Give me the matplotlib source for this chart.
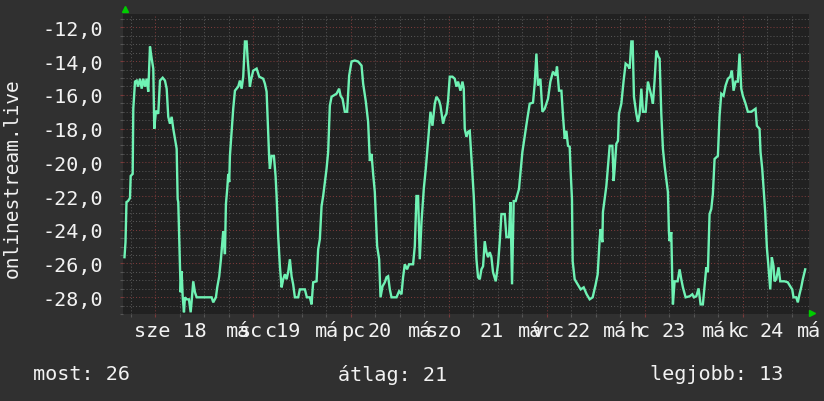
import matplotlib
matplotlib.use("Agg")
import matplotlib.pyplot as plt
import matplotlib.transforms as mtransforms
import numpy as np

# ---------------- data ----------------
hours = [0.24, 0.49, 0.73, 1.10, 1.59, 1.76, 2.25, 2.40, 2.82, 3.23, 3.55, 4.04, 4.46, 4.85, 5.27, 5.68,
         6.07, 6.49, 6.91, 7.30, 7.54, 7.96, 8.52, 8.94, 9.60, 10.16, 10.58, 10.97, 11.39, 11.80, 12.20,
         12.61, 13.03, 13.27, 13.42, 13.84, 14.01, 14.25, 14.50, 14.82, 15.06, 15.48, 16.04, 16.46, 16.70,
         17.09, 17.51, 17.93, 21.60, 21.99, 22.65, 22.97, 23.46, 23.88, 24.44, 24.86, 25.10, 25.42, 25.67,
         25.91, 26.08, 26.89, 27.31, 28.11, 28.53, 28.95, 29.34, 29.76, 30.17, 30.42, 30.98, 31.22, 31.79,
         32.62, 33.26, 34.24, 34.65, 35.07, 35.46, 35.71, 35.88, 36.29, 36.86, 37.27, 37.52, 37.91, 38.33,
         38.74, 39.14, 39.55, 39.97, 40.36, 40.78, 41.19, 41.58, 42.00, 42.81, 43.22, 44.45, 44.94, 45.67,
         46.09, 46.48, 47.31, 47.71, 48.12, 48.54, 48.93, 49.35, 49.76, 50.16, 50.57, 50.99, 51.38, 52.21,
         52.85, 53.19, 53.68, 54.24, 54.81, 55.30, 55.89, 56.69, 57.50, 58.34, 58.73, 59.39, 59.95, 60.37,
         60.78, 61.18, 61.59, 62.16, 62.65, 62.99, 63.48, 64.04, 64.46, 64.85, 65.27, 65.68, 66.91, 67.54,
         68.13, 68.52, 68.94, 69.50, 69.99, 70.97, 71.39, 71.80, 72.20, 72.61, 73.03, 73.59, 74.08, 74.82,
         75.23, 75.72, 76.29, 76.70, 77.34, 77.68, 78.32, 78.73, 79.15, 79.54, 79.96, 80.62, 81.18, 81.60,
         81.99, 82.58, 83.07, 83.39, 83.63, 84.05, 84.44, 84.86, 85.03, 85.52, 85.84, 86.25, 86.50, 86.89,
         87.31, 87.72, 88.12, 88.53, 88.95, 89.34, 89.76, 90.17, 90.56, 91.23, 91.79, 92.20, 92.62, 93.43,
         93.85, 94.48, 94.82, 95.22, 95.63, 96.12, 96.44, 96.93, 97.10, 97.76, 98.33, 98.89, 99.55, 100.36,
         100.78, 101.19, 101.58, 102.17, 102.66, 103.23, 104.03, 104.62, 105.26, 105.92, 106.24, 106.73,
         107.32, 107.71, 108.13, 108.54, 108.93, 109.35, 109.59, 109.91, 110.08, 110.57, 111.31, 112.04,
         112.78, 113.51, 114.25, 114.98, 115.72, 116.21, 116.70, 116.94, 117.36, 117.50, 117.92, 118.34,
         118.73, 119.15, 119.81, 120.12, 120.37, 120.78, 121.18, 121.42, 122.01, 122.57, 123.06, 123.63,
         124.04, 124.46, 124.78, 125.10, 125.68, 126.07, 126.49, 126.91, 127.30, 127.96, 128.52, 128.94,
         129.36, 129.75, 130.16, 130.58, 131.07, 131.39, 131.80, 132.20, 132.61, 133.03, 133.42, 133.67,
         133.84, 134.25, 134.50, 134.65, 135.06, 135.80, 136.29, 136.70, 137.10, 137.76, 138.74, 139.40,
         139.79, 140.38, 140.94, 141.19, 141.43, 141.99, 142.41, 142.83, 143.22, 143.63, 144.05, 144.44,
         144.86, 145.67, 146.08, 146.50, 147.06, 147.55, 148.12, 148.70, 149.10, 149.51, 150.00, 150.56,
         150.98, 151.40, 151.79, 152.45, 153.01, 153.85, 154.90, 155.22, 155.88, 156.12, 156.54, 156.93,
         157.27, 157.67, 158.08, 158.50, 158.89, 159.31, 159.55, 159.97, 160.53, 160.95, 162.00, 162.81,
         163.40, 163.89, 164.20, 164.87, 165.26, 165.67, 166.09, 166.48, 167.07]

rank = [-25.63, -24.74, -22.36, -22.30, -22.12, -20.81, -20.69, -16.82, -15.21, -15.15, -15.51, -15.04,
        -15.63, -15.04, -15.51, -15.04, -15.81, -13.13, -13.85, -14.44, -18.01, -16.94, -17.12, -15.15,
        -14.98, -15.15, -15.63, -17.30, -17.71, -17.30, -18.01, -18.61, -19.20, -22.18, -22.36, -26.35,
        -27.71, -26.46, -27.95, -28.90, -28.01, -28.13, -28.13, -28.90, -28.25, -27.06, -27.71, -28.01,
        -28.01, -28.31, -28.01, -27.42, -26.76, -25.75, -24.08, -25.45, -22.48, -21.58, -20.69, -21.17,
        -19.62, -16.82, -15.75, -15.51, -15.15, -15.63, -14.92, -12.83, -12.83, -13.85, -15.51, -15.15,
        -14.56, -14.44, -14.92, -15.04, -15.33, -15.81, -18.19, -19.80, -20.39, -19.62, -19.62, -20.81,
        -22.00, -24.38, -26.17, -27.42, -26.94, -26.64, -26.94, -26.52, -25.75, -26.76, -27.24, -28.01,
        -28.01, -27.54, -27.54, -28.01, -28.01, -28.43, -27.12, -27.06, -25.15, -24.56, -22.60, -22.00,
        -21.17, -20.39, -19.38, -16.64, -16.11, -16.05, -15.93, -15.63, -16.05, -16.23, -17.00, -17.00,
        -14.86, -14.02, -13.96, -14.02, -14.26, -15.33, -16.40, -17.60, -19.92, -19.50, -20.69, -21.76,
        -24.98, -25.75, -28.01, -27.36, -27.12, -26.82, -26.76, -27.54, -28.01, -28.01, -27.65, -27.83,
        -26.82, -26.05, -26.35, -26.05, -26.05, -24.98, -22.00, -22.00, -25.75, -23.55, -21.58, -20.39,
        -18.19, -17.00, -17.83, -16.52, -16.11, -16.35, -16.64, -17.71, -17.30, -17.12, -16.35, -14.92,
        -14.92, -15.04, -15.51, -15.21, -15.75, -15.21, -15.63, -18.01, -18.49, -18.19, -18.13, -18.79,
        -20.69, -22.00, -24.38, -25.75, -26.82, -26.94, -26.35, -26.17, -24.68, -25.33, -25.63, -25.33,
        -25.63, -26.52, -27.06, -26.05, -24.74, -23.07, -23.07, -24.44, -24.44, -22.36, -27.24, -22.30,
        -22.30, -22.00, -21.58, -21.11, -19.38, -18.43, -17.54, -16.52, -16.46, -15.33, -13.55, -15.45,
        -15.04, -17.00, -16.82, -16.23, -15.21, -14.62, -14.86, -14.32, -15.75, -15.75, -17.24, -18.61,
        -18.13, -19.02, -19.08, -20.57, -22.18, -25.87, -26.94, -27.24, -27.54, -27.42, -27.83, -28.13,
        -28.01, -27.24, -26.64, -24.56, -23.96, -24.74, -22.95, -22.18, -21.40, -20.27, -19.02, -19.02,
        -21.11, -20.39, -18.90, -18.73, -17.12, -16.52, -15.15, -14.14, -14.26, -14.44, -12.83, -12.83,
        -16.11, -17.12, -17.60, -17.12, -15.63, -17.00, -17.00, -15.21, -15.63, -16.05, -16.52, -15.15,
        -13.37, -13.73, -13.85, -17.12, -19.20, -20.21, -20.99, -21.76, -24.14, -24.68, -24.14, -27.12,
        -28.43, -27.06, -27.06, -26.35, -26.94, -27.42, -28.01, -27.95, -27.83, -28.01, -27.95, -27.48,
        -27.95, -28.43, -28.43, -27.36, -26.23, -26.52, -23.07, -22.77, -21.88, -19.80, -19.62, -17.24,
        -15.93, -16.05, -15.45, -15.04, -14.92, -14.56, -15.75, -15.21, -15.21, -13.55, -15.63, -16.05,
        -16.52, -17.00, -17.00, -16.82, -17.83, -18.01, -19.38, -20.39, -21.76, -22.95, -25.04, -26.23,
        -27.54, -25.63, -26.17, -27.06, -26.94, -26.23, -27.06, -27.06, -27.12, -27.36, -27.54, -28.01,
        -28.01, -28.31, -27.83, -27.42, -26.94, -26.35]

y_ticks = [-12, -14, -16, -18, -20, -22, -24, -26, -28]
y_tick_labels = ["-12,0", "-14,0", "-16,0", "-18,0", "-20,0", "-22,0", "-24,0", "-26,0", "-28,0"]

# day labels as rendered (overlapping glyph groups) and their left edges (hours)
x_label_texts = ["sze 18",
                 "má", "sc", "c19",
                 "má", "pc", "20",
                 "má", "szo", "21",
                 "má", "v", "rc", "22",
                 "má", "h", "c", "23",
                 "má", "k", "c", "24",
                 "má"]
x_label_hours = [2.57,
                 25.10, 28.29, 34.41,
                 46.90, 53.26, 59.88,
                 69.68, 74.08, 87.31,
                 96.61, 99.80, 102.25, 108.61,
                 117.43, 124.00, 126.00, 131.88,
                 141.67, 148.00, 150.24, 155.88,
                 164.95]

y_title = "onlinestream.live"
stats = ["most: 26", "átlag: 21", "legjobb: 13"]

# ---------------- style ----------------
BG = "#303030"
PLOT_BG = "#212121"
LINE = "#6ff2b4"
TXT = "#f2f2f2"
MINOR = "#555555"
MAJOR = "#7a3a3a"
FONT = "DejaVu Sans Mono"
FS = 14.5

fig = plt.figure(figsize=(8.24, 4.02), dpi=100, facecolor=BG)
ax = fig.add_axes([123.5 / 824, 1 - 315 / 402, 685.5 / 824, 300 / 402])
ax.set_facecolor(PLOT_BG)
for s in ax.spines.values():
    s.set_visible(False)

ax.set_xlim(0, 168)
ax.set_ylim(-29.0, -11.2)

midnights = np.arange(7.75, 168, 24)
six_hours = np.arange(1.75, 168, 6)
ax.set_xticks(midnights)
ax.set_xticks(six_hours, minor=True)
ax.set_yticks(y_ticks)
ax.set_yticks(np.arange(-29.0, -11.0, 0.5), minor=True)
ax.set_yticklabels(y_tick_labels, fontfamily=FONT, fontsize=FS, color=TXT)
ax.set_xticklabels([])
ax.tick_params(axis="both", which="both", length=2, width=0.8)
ax.tick_params(axis="x", which="major", colors=MAJOR)
ax.tick_params(axis="x", which="minor", colors=MINOR)
ax.tick_params(axis="y", which="major", colors=MAJOR, pad=13)
ax.tick_params(axis="y", which="minor", colors=MINOR)
for lab in ax.get_yticklabels():
    lab.set_color(TXT)

ax.grid(which="minor", color=MINOR, linestyle=(0, (1, 2)), linewidth=0.75)
ax.grid(which="major", color=MAJOR, linestyle=(0, (1, 2)), linewidth=0.75)
ax.set_axisbelow(True)

ax.plot(hours, rank, color=LINE, linewidth=1.7, solid_joinstyle="miter", zorder=3)

# x labels
trans = mtransforms.blended_transform_factory(ax.transData, fig.transFigure)
for t, h in zip(x_label_texts, x_label_hours):
    ax.text(h, 1 - 332 / 402, t, transform=trans, ha="left", va="center",
            fontfamily=FONT, fontsize=FS, color=TXT, clip_on=False)

# axis arrows
ax.plot([0.002], [1.017], marker="^", markersize=5, color="#00cc00", transform=ax.transAxes,
        clip_on=False, linestyle="none")
ax.plot([1.0045], [0.004], marker=">", markersize=5, color="#00cc00", transform=ax.transAxes,
        clip_on=False, linestyle="none")

# y title
fig.text(12 / 824, 1 - 178 / 402, y_title, rotation=90, ha="center", va="center",
         fontfamily=FONT, fontsize=FS - 0.5, color=TXT)

# bottom statistics
for t, x in zip(stats, [33, 338, 650]):
    fig.text(x / 824, 1 - 375 / 402, t, ha="left", va="center",
             fontfamily=FONT, fontsize=FS, color=TXT)

fig.savefig("out.png", dpi=100, facecolor=BG)
